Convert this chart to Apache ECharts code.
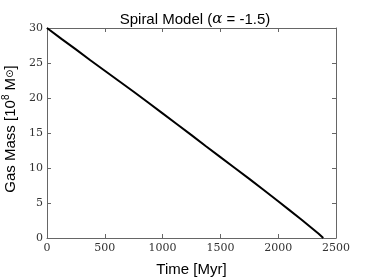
<!DOCTYPE html>
<html><head><meta charset="utf-8">
<script src="https://cdn.jsdelivr.net/npm/echarts@6/dist/echarts.min.js"></script>
<style>html,body{margin:0;padding:0;background:#fff}#c{width:374px;height:280px}</style>
</head><body><div id="c"></div>
<script>
const timeMyr = [0, 125, 250, 375, 500, 625, 750, 875, 1000, 1125, 1250, 1375, 1500, 1625, 1750, 1875, 2000, 2100, 2200, 2300, 2350, 2390];
const gasMass = [30, 28.45, 26.95, 25.4, 23.9, 22.4, 20.9, 19.35, 17.8, 16.25, 14.7, 13.1, 11.55, 10.0, 8.45, 6.85, 5.25, 3.95, 2.65, 1.3, 0.62, 0];
const xTicks = [0, 500, 1000, 1500, 2000, 2500];
const yTicks = [0, 5, 10, 15, 20, 25, 30];

const serif = 'DejaVu Serif';
const sans = 'Liberation Sans';
const lineCol = '#666';
const chart = echarts.init(document.getElementById('c'), null, {renderer: 'canvas'});
const baseX = {
  type: 'value', min: xTicks[0], max: xTicks[xTicks.length - 1], interval: 500,
  splitLine: {show: false},
  axisLine: {show: true, onZero: false, lineStyle: {color: lineCol, width: 1}},
  axisTick: {show: true, inside: true, length: 4, lineStyle: {color: lineCol}}
};
const baseY = {
  type: 'value', min: yTicks[0], max: yTicks[yTicks.length - 1], interval: 5,
  splitLine: {show: false},
  axisLine: {show: true, onZero: false, lineStyle: {color: lineCol, width: 1}},
  axisTick: {show: true, inside: true, length: 4, lineStyle: {color: lineCol}}
};
chart.setOption({
  animation: false,
  title: {
    text: '{a|Spiral Model (}{g|α}{a| = -1.5)}',
    left: 190, top: 7, textAlign: 'center',
    textStyle: {fontWeight: 'normal', rich: {
      a: {fontFamily: sans, fontSize: 15, fontWeight: 'normal', color: '#000'},
      g: {fontFamily: serif, fontStyle: 'italic', fontWeight: 'normal', fontSize: 15, color: '#000'}
    }}
  },
  grid: {left: 47, right: 38, top: 28, bottom: 42, containLabel: false, outerBoundsMode: 'none'},
  xAxis: [
    Object.assign({}, baseX, {
      position: 'bottom',
      name: 'Time [Myr]', nameLocation: 'middle', nameGap: 24,
      nameTextStyle: {fontFamily: sans, fontSize: 15, color: '#000'},
      axisLabel: {show: true, fontFamily: serif, fontSize: 11, color: '#333', margin: 5, formatter: v => String(v)}
    }),
    Object.assign({}, baseX, {position: 'top', axisLabel: {show: false}})
  ],
  yAxis: [
    Object.assign({}, baseY, {
      position: 'left',
      name: '{a|Gas Mass [10}{s|8}{a| M}{b|⊙}{a|]}', nameLocation: 'middle', nameGap: 24,
      nameTextStyle: {padding: [0, 0, 0, 8], rich: {
        a: {fontFamily: sans, fontSize: 15, color: '#000'},
        s: {fontFamily: sans, fontSize: 10, color: '#000', verticalAlign: 'bottom', padding: [0,0,8,0]},
        b: {fontFamily: 'DejaVu Sans', fontSize: 10, color: '#000'}
      }},
      axisLabel: {show: true, fontFamily: serif, fontSize: 11, color: '#333', margin: 4, formatter: v => String(v)}
    }),
    Object.assign({}, baseY, {position: 'right', axisLabel: {show: false}})
  ],
  series: [{
    type: 'line', xAxisIndex: 0, yAxisIndex: 0,
    data: timeMyr.map((t, i) => [t, gasMass[i]]),
    showSymbol: false, smooth: false,
    lineStyle: {color: '#000', width: 2}
  }]
});
</script></body></html>
